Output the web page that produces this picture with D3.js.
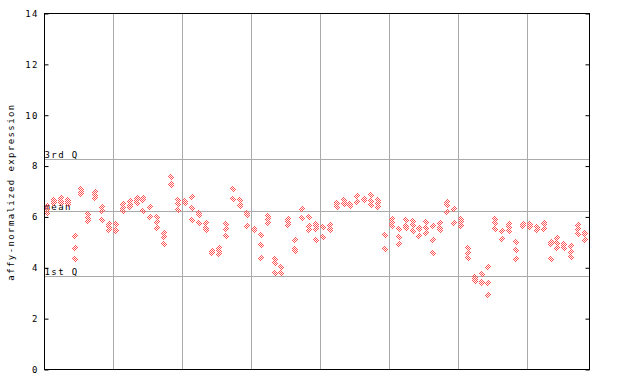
<!DOCTYPE html>
<html>
<head>
<meta charset="utf-8">
<script src="https://cdn.jsdelivr.net/npm/d3@7"></script>
<style>
  body { margin: 0; background: #fff; }
  text { font-family: "DejaVu Sans Mono", monospace; font-size: 9px; letter-spacing: 1.4px; fill: #000; }
</style>
</head>
<body>
<div id="chart"></div>
<script>
// expression values per sample (several probes / replicates per column)
var values = [
  [6.42, 6.29, 6.16], [6.65, 6.6, 6.55], [6.73, 6.62, 6.55], [6.68, 6.58, 6.49], [5.24, 4.76, 4.36],
  [7.08, 6.97, 6.91], [6.10, 5.96, 5.83], [6.99, 6.88, 6.75], [6.40, 6.25, 5.86], [5.72, 5.6, 5.5],
  [5.73, 5.48, 5.46], [6.49, 6.36, 6.23], [6.62, 6.45, 6.38], [6.75, 6.66, 6.55], [6.75, 6.66, 6.23],
  [6.40, 5.99], [5.98, 5.82, 5.57], [5.35, 5.20, 4.95], [7.58, 7.31, 7.24], [6.66, 6.49, 6.27],
  [6.62, 6.55], [6.79, 6.36, 5.86], [6.16, 6.06, 5.77], [5.77, 5.57, 5.48], [4.65, 4.58],
  [4.76, 4.65, 4.55], [5.74, 5.53, 5.24], [7.08, 6.71], [6.68, 6.45, 6.42], [6.16, 6.06, 5.66],
  [5.52, 5.5], [5.27, 4.90, 4.39], [6.02, 5.9, 5.77], [4.36, 4.19, 3.80], [4.04, 3.8],
  [5.92, 5.8, 5.7], [5.11, 4.74, 4.65], [6.32, 5.97], [6.0, 5.66, 5.48], [5.74, 5.64, 5.53, 5.11],
  [5.62, 5.2], [5.70, 5.52, 5.48], [6.55, 6.5, 6.40], [6.66, 6.55, 6.5], [6.51, 6.42],
  [6.84, 6.58], [6.7, 6.66], [6.86, 6.62, 6.45], [6.68, 6.55, 6.38], [5.29, 4.74],
  [5.90, 5.77, 5.64], [5.53, 5.22, 4.94], [5.87, 5.66, 5.57], [5.83, 5.70, 5.43], [5.55, 5.52, 5.24],
  [5.81, 5.57, 5.35], [5.64, 5.11, 4.59], [5.77, 5.55, 5.5], [6.57, 6.45, 6.2], [6.32, 5.77],
  [5.92, 5.8, 5.66], [4.78, 4.59, 4.39], [3.62, 3.55, 3.47], [3.74, 3.45, 3.42], [4.04, 3.41, 2.94],
  [5.92, 5.77, 5.53], [5.43, 5.14], [5.73, 5.60, 5.45], [5.03, 4.71, 4.36], [5.73, 5.64],
  [5.74, 5.64, 5.62], [5.61, 5.48], [5.76, 5.72, 5.53], [5.01, 4.92, 4.33], [5.18, 4.98, 4.78],
  [4.94, 4.9, 4.78], [4.85, 4.61, 4.43], [5.69, 5.51, 5.31], [5.38, 5.33, 5.11]
];

var yTicks = [0, 2, 4, 6, 8, 10, 12, 14];
var xGrid = [10, 20, 30, 40, 50, 60, 70];
var refLabels = ["3rd Q", "mean", "1st Q"];
var refValues = [8.26, 6.24, 3.66];

var width = 640, height = 384;
var margin = {top: 13.5, right: 50.5, bottom: 14.5, left: 44.5};

var svg = d3.select("#chart")
    .append("svg")
    .attr("width", width)
    .attr("height", height);

// pixel checkerboard for the hollow diamonds
var pat = svg.append("defs").append("pattern")
    .attr("id", "checker")
    .attr("patternUnits", "userSpaceOnUse")
    .attr("width", 2)
    .attr("height", 2);
pat.append("rect").attr("x", 0).attr("y", 0).attr("width", 1).attr("height", 1).attr("fill", "#ff5555");
pat.append("rect").attr("x", 1).attr("y", 1).attr("width", 1).attr("height", 1).attr("fill", "#ff5555");

var x = d3.scaleLinear()
    .domain([0, values.length])
    .range([margin.left, width - margin.right]);

var y = d3.scaleLinear()
    .domain([0, 14])
    .range([height - margin.bottom, margin.top]);

// vertical grid
svg.selectAll("vgrid")
    .data(xGrid)
    .enter()
    .append("line")
    .attr("x1", function (d) { return Math.round(x(d)) + 0.5; })
    .attr("x2", function (d) { return Math.round(x(d)) + 0.5; })
    .attr("y1", y(14))
    .attr("y2", y(0))
    .attr("stroke", "#aaaaaa");

// quartile / mean lines
svg.selectAll("refline")
    .data(refValues)
    .enter()
    .append("line")
    .attr("x1", x(0))
    .attr("x2", x(values.length))
    .attr("y1", function (d) { return Math.round(y(d)) + 0.5; })
    .attr("y2", function (d) { return Math.round(y(d)) + 0.5; })
    .attr("stroke", "#aaaaaa");

svg.selectAll("reflabel")
    .data(refValues)
    .enter()
    .append("text")
    .attr("x", x(0))
    .attr("y", function (d) { return Math.round(y(d)) - 1; })
    .text(function (d, i) { return refLabels[i]; });

// points
var pts = [];
values.forEach(function (col, i) {
    col.forEach(function (v) { pts.push({i: i, v: v}); });
});

svg.selectAll("mypoint")
    .data(pts)
    .enter()
    .append("path")
    .attr("d", function (d) {
        var cx = Math.round(x(d.i + 0.35)), cy = Math.round(y(d.v));
        return "M" + cx + "," + (cy - 3.5) + "L" + (cx + 3.5) + "," + cy +
               "L" + cx + "," + (cy + 3.5) + "L" + (cx - 3.5) + "," + cy + "Z";
    })
    .attr("fill", "url(#checker)")
    .attr("shape-rendering", "crispEdges");

// axes
var left = svg.append("g")
    .attr("transform", "translate(" + x(0) + ",0)")
    .call(d3.axisLeft(y).tickValues(yTicks).tickSize(-4).tickPadding(7));
left.select(".domain").remove();
left.selectAll("line").attr("stroke", "#000");
left.selectAll("text").attr("font-family", null).attr("font-size", null).attr("dx", "1.4");

var right = svg.append("g")
    .attr("transform", "translate(" + x(values.length) + ",0)")
    .call(d3.axisRight(y).tickValues(yTicks).tickSize(-4).tickFormat(""));
right.select(".domain").remove();
right.selectAll("line").attr("stroke", "#000");

// frame
svg.append("rect")
    .attr("x", x(0))
    .attr("y", y(14))
    .attr("width", x(values.length) - x(0))
    .attr("height", y(0) - y(14))
    .attr("fill", "none")
    .attr("stroke", "#000");

svg.append("text")
    .attr("transform", "translate(14," + 192 + ") rotate(-90)")
    .attr("text-anchor", "middle")
    .text("affy-normalized expression");
</script>
</body>
</html>
